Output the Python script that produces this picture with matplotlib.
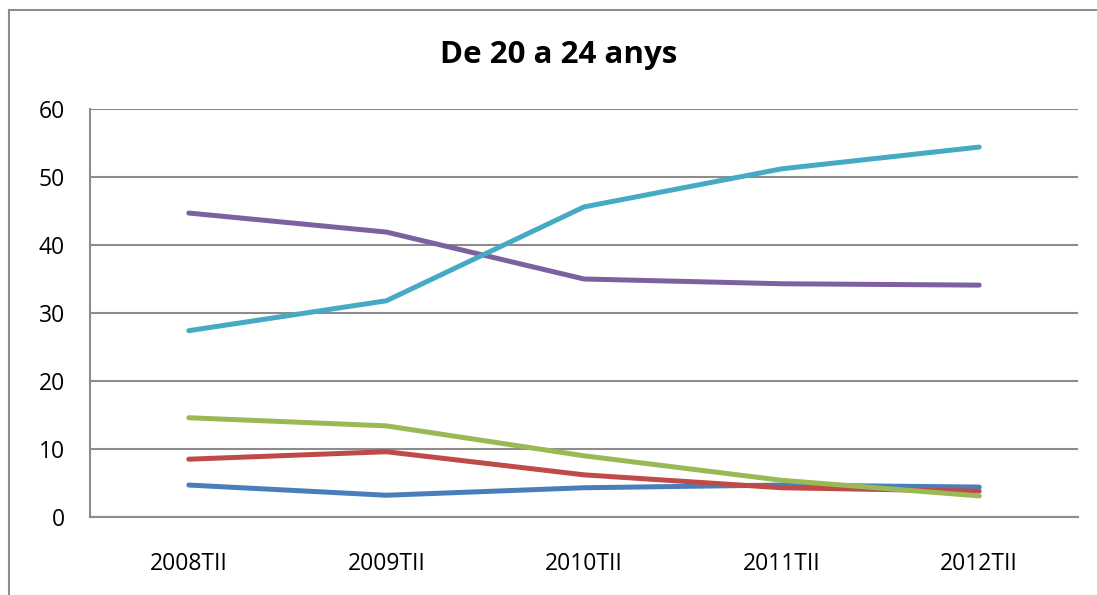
import matplotlib
matplotlib.use("Agg")
import matplotlib.pyplot as plt
from matplotlib.lines import Line2D

# categories and series
periods = ["2008TII", "2009TII", "2010TII", "2011TII", "2012TII"]
blue_vals = [4.7, 3.2, 4.3, 4.7, 4.4]
red_vals = [8.5, 9.6, 6.2, 4.3, 3.8]
green_vals = [14.6, 13.4, 9.0, 5.4, 3.1]
purple_vals = [44.7, 41.9, 35.0, 34.3, 34.1]
cyan_vals = [27.4, 31.8, 45.6, 51.2, 54.4]
yticks = [0, 10, 20, 30, 40, 50, 60]

plt.rcParams['font.family'] = ['Open Sans', 'DejaVu Sans']

fig = plt.figure(figsize=(10.97, 5.95), dpi=100)
ax = fig.add_axes([90 / 1097, 78 / 595, 988 / 1097, 408 / 595])

# outer chart frame, only the top and left edges are inside the picture
fx = 9 / 1097
fy = 1 - 10 / 595
fig.lines.append(Line2D([fx, 1.0], [fy, fy], transform=fig.transFigure,
                        color='#8c8c8c', lw=1.5))
fig.lines.append(Line2D([fx, fx], [0.0, fy], transform=fig.transFigure,
                        color='#8c8c8c', lw=1.5))

x = range(len(periods))
series = [
    (blue_vals, '#4A7EBB'),
    (red_vals, '#BE4B48'),
    (green_vals, '#98B954'),
    (purple_vals, '#7D60A0'),
    (cyan_vals, '#46AAC5'),
]
for vals, col in series:
    ax.plot(x, vals, color=col, lw=3.6, solid_capstyle='round',
            solid_joinstyle='round')

ax.set_xlim(-0.5, len(periods) - 0.5)
ax.set_ylim(0, 60)
ax.set_yticks(yticks)
ax.set_xticks(list(x))
ax.set_xticklabels(periods)
ax.yaxis.grid(True, color='#8c8c8c', lw=1.5)
ax.set_axisbelow(True)
for s in ['top', 'right']:
    ax.spines[s].set_visible(False)
for s in ['left', 'bottom']:
    ax.spines[s].set_color('#8c8c8c')
    ax.spines[s].set_linewidth(1.5)
ax.tick_params(axis='both', length=0, labelsize=16.5)
ax.tick_params(axis='x', pad=25)
ax.tick_params(axis='y', pad=18)

fig.text(559 / 1097, 1 - 55 / 595, "De 20 a 24 anys", ha='center', va='center',
         fontsize=22.5, fontweight='bold')

fig.savefig("out.png", dpi=100)
